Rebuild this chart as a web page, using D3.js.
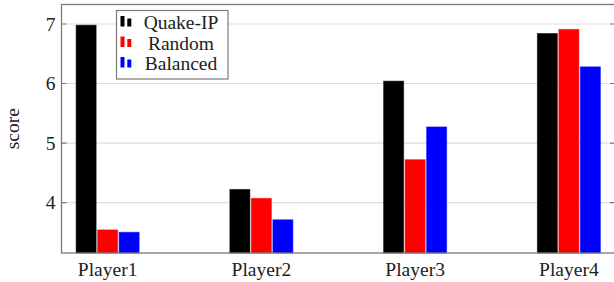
<!DOCTYPE html>
<html>
  <head>
    <meta charset="utf-8" />
    <title>score per player</title>
    <script src="https://cdn.jsdelivr.net/npm/d3@7/dist/d3.min.js"></script>
    <style>
      body { margin: 0; background: #fff; }
    </style>
  </head>
  <body>
    <div id="canvas"></div>
  <script>
    // data
    const players = ["Player1", "Player2", "Player3", "Player4"];
    const series = ["Quake-IP", "Random", "Balanced"];
    const colors = ["#000000", "#ff0000", "#0000ff"];
    const quakeIP = [6.98, 4.22, 6.04, 6.84];
    const random = [3.54, 4.07, 4.72, 6.91];
    const balanced = [3.50, 3.71, 5.27, 6.28];
    const yTicks = [4, 5, 6, 7];

    const values = [quakeIP, random, balanced];

    const width = 614;
    const height = 282;
    const box = { left: 61.5, right: 615, top: 4.5, bottom: 253 };
    const font = "Liberation Serif";
    const fs = 19.5;

    const svg = d3
      .create("svg")
      .attr("width", width)
      .attr("height", height)
      .attr("viewBox", [0, 0, width, height]);

    // y limits like pgfplots: data range enlarged by 10% each side
    const all = values.flat();
    const lo = d3.min(all), hi = d3.max(all);
    const pad = (hi - lo) * 0.1;
    const y = d3.scaleLinear().domain([lo - pad, hi + pad]).range([box.bottom, box.top]);

    const x = d3.scalePoint().domain(players).range([box.left, box.right]).padding(0.3);
    const inner = d3.scaleBand().domain(series).range([-31.5, 31.5]).paddingInner(0.07);

    // grid lines
    svg
      .append("g")
      .selectAll()
      .data(yTicks)
      .join("line")
      .attr("x1", box.left)
      .attr("x2", box.right)
      .attr("y1", (d) => y(d))
      .attr("y2", (d) => y(d))
      .attr("stroke", "#dedede")
      .attr("stroke-width", 1.2);

    // bars
    const rows = [];
    series.forEach((s, i) => {
      players.forEach((p, j) => rows.push({ s, p, v: values[i][j], c: colors[i] }));
    });
    svg
      .append("g")
      .selectAll()
      .data(rows)
      .join("rect")
      .attr("x", (d) => x(d.p) + inner(d.s))
      .attr("width", inner.bandwidth())
      .attr("y", (d) => y(d.v))
      .attr("height", (d) => box.bottom - y(d.v))
      .attr("fill", (d) => d.c)
      .attr("stroke", (d) => d.c)
      .attr("stroke-opacity", 0.55)
      .attr("stroke-width", 1);

    // frame
    svg
      .append("rect")
      .attr("x", box.left)
      .attr("y", box.top)
      .attr("width", box.right - box.left)
      .attr("height", box.bottom - box.top)
      .attr("fill", "none")
      .attr("stroke", "#7a7a7a")
      .attr("stroke-width", 1.3);

    // y ticks (inward, both sides) and labels
    const yAxis = svg.append("g");
    yAxis
      .selectAll()
      .data(yTicks)
      .join("path")
      .attr("d", (d) => `M${box.left},${y(d)}h5M${box.right},${y(d)}h-5`)
      .attr("stroke", "#7a7a7a")
      .attr("stroke-width", 1.2);
    yAxis
      .selectAll()
      .data(yTicks)
      .join("text")
      .attr("x", box.left - 6)
      .attr("y", (d) => y(d))
      .attr("dy", "0.34em")
      .attr("text-anchor", "end")
      .attr("font-family", font)
      .attr("font-size", fs)
      .attr("fill", "#222")
      .text((d) => d);

    // x labels
    svg
      .append("g")
      .selectAll()
      .data(players)
      .join("text")
      .attr("x", (d) => x(d))
      .attr("y", 276)
      .attr("text-anchor", "middle")
      .attr("font-family", font)
      .attr("font-size", fs)
      .attr("fill", "#222")
      .text((d) => d);

    // y label
    svg
      .append("text")
      .attr("transform", `translate(19,${(box.top + box.bottom) / 2}) rotate(-90)`)
      .attr("text-anchor", "middle")
      .attr("font-family", font)
      .attr("font-size", fs)
      .attr("fill", "#222")
      .text("score");

    // legend
    const leg = svg.append("g").attr("transform", "translate(116.5,10.5)");
    leg
      .append("rect")
      .attr("width", 111.5)
      .attr("height", 68.5)
      .attr("fill", "#fff")
      .attr("stroke", "#7a7a7a")
      .attr("stroke-width", 1.2);
    const item = leg
      .selectAll("g")
      .data(series)
      .join("g")
      .attr("transform", (d, i) => `translate(0,${12 + i * 20.5})`);
    item
      .append("rect")
      .attr("x", 4)
      .attr("y", -6.5)
      .attr("width", 4)
      .attr("height", 10.5)
      .attr("fill", (d, i) => colors[i]);
    item
      .append("rect")
      .attr("x", 10.8)
      .attr("y", -4)
      .attr("width", 4)
      .attr("height", 8)
      .attr("fill", (d, i) => colors[i]);
    item
      .append("text")
      .attr("x", 64.5)
      .attr("y", 0)
      .attr("dy", "0.34em")
      .attr("text-anchor", "middle")
      .attr("font-family", font)
      .attr("font-size", fs)
      .attr("fill", "#222")
      .text((d) => d);

    canvas.append(svg.node());
  </script>
  </body>
</html>
